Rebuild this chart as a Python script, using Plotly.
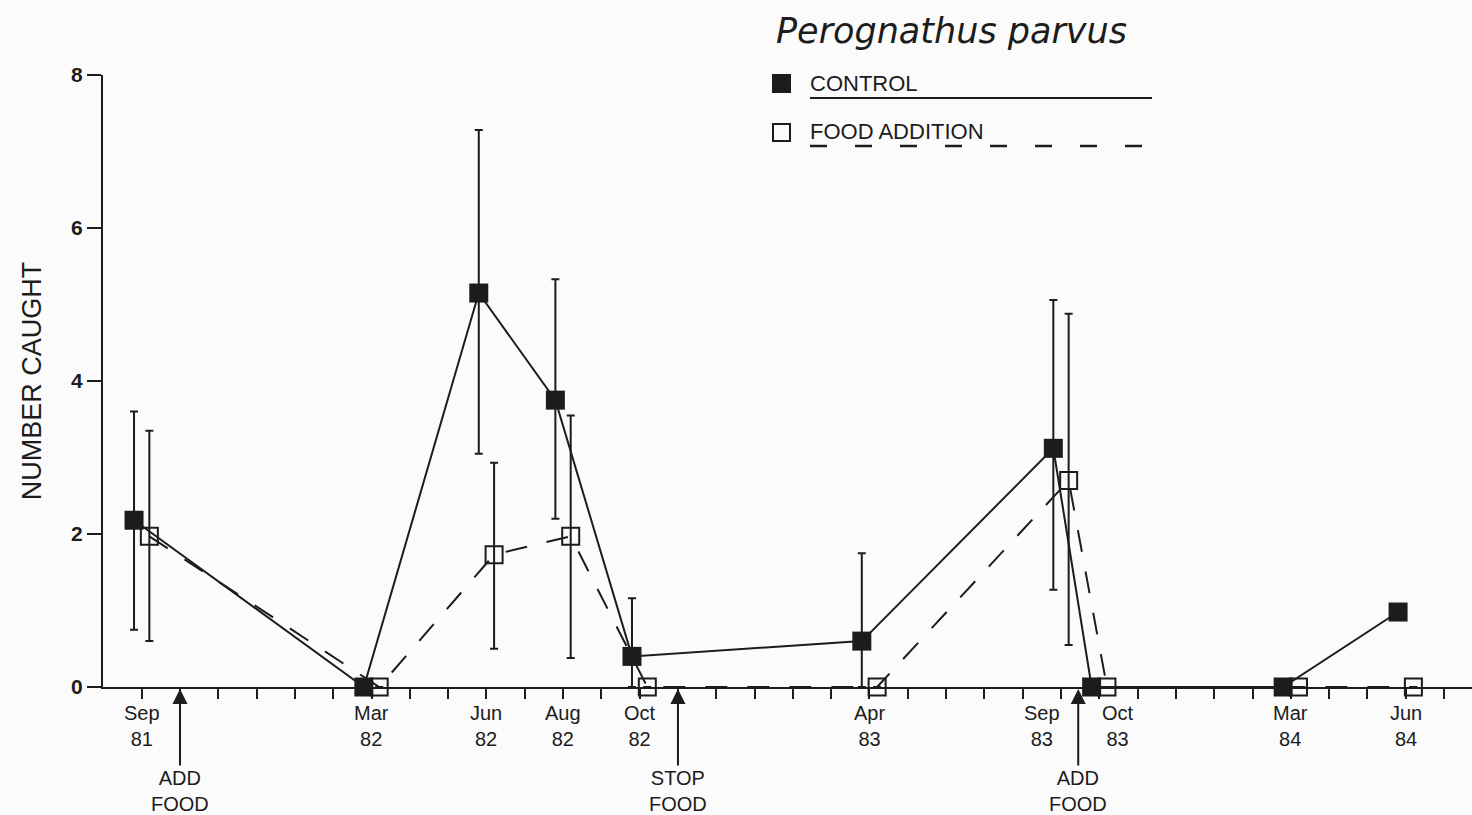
import plotly.graph_objects as go

# ---- data (months since Sep 1981) ----
months = [0, 6, 9, 11, 13, 19, 24, 25, 30, 33]
control = [2.18, 0, 5.15, 3.75, 0.40, 0.60, 3.12, 0, 0, 0.98]
control_hi = [3.60, None, 7.28, 5.33, 1.16, 1.75, 5.06, None, None, None]
control_lo = [0.75, None, 3.05, 2.20, 0.0, 0.0, 1.27, None, None, None]
food = [1.97, 0, 1.73, 1.97, 0, 0, 2.70, 0, 0, 0]
food_hi = [3.35, None, 2.93, 3.55, None, None, 4.88, None, None, None]
food_lo = [0.60, None, 0.50, 0.38, None, None, 0.55, None, None, None]

label_months = [0, 6, 9, 11, 13, 19, 23.5, 25.5, 30, 33]
label_text = ["Sep<br>81", "Mar<br>82", "Jun<br>82", "Aug<br>82", "Oct<br>82",
              "Apr<br>83", "Sep<br>83", "Oct<br>83", "Mar<br>84", "Jun<br>84"]

event_months = [1.0, 14.0, 24.45]
event_text = ["ADD<br>FOOD", "STOP<br>FOOD", "ADD<br>FOOD"]

title_text = "Perognathus parvus"
legend_labels = ["CONTROL", "FOOD ADDITION"]

INK = "#1c1c1c"
DODGE = 0.2
W, H = 1472, 815
ML, MR, MT, MB = 103, 0, 75, 128


def err_plus(v, hi):
    return [None if h is None else h - a for a, h in zip(v, hi)]


def err_minus(v, lo):
    return [None if l is None else a - l for a, l in zip(v, lo)]


def px_x(p):
    return (p - ML) / (W - ML - MR)


def px_y(p):
    return (H - MB - p) / (H - MB - MT)


fig = go.Figure()

fig.add_trace(go.Scatter(
    x=[m + DODGE for m in months], y=food, mode="lines+markers",
    line=dict(color=INK, width=2, dash="22px,20px"),
    marker=dict(symbol="square-open", size=17, color=INK, line=dict(width=2, color=INK)),
    error_y=dict(type="data", symmetric=False, array=err_plus(food, food_hi),
                 arrayminus=err_minus(food, food_lo), color=INK, thickness=2, width=4),
    cliponaxis=False, showlegend=False,
))

fig.add_trace(go.Scatter(
    x=[m - DODGE for m in months], y=control, mode="lines+markers",
    line=dict(color=INK, width=2),
    marker=dict(symbol="square", size=19, color=INK, line=dict(width=0)),
    error_y=dict(type="data", symmetric=False, array=err_plus(control, control_hi),
                 arrayminus=err_minus(control, control_lo), color=INK, thickness=2, width=4),
    cliponaxis=False, showlegend=False,
))

annotations = []
for m, t in zip(label_months, label_text):
    annotations.append(dict(x=m, y=px_y(726), xref="x", yref="paper", text=t,
                            showarrow=False, xanchor="center", yanchor="middle",
                            font=dict(family="Liberation Sans", size=20, color=INK)))

for m, t in zip(event_months, event_text):
    annotations.append(dict(x=m, y=0, xref="x", yref="y", text=t, showarrow=True,
                            ax=0, ay=104, arrowhead=2, arrowsize=1.5, arrowwidth=2,
                            arrowcolor=INK, standoff=2,
                            font=dict(family="Liberation Sans", size=20, color=INK)))

# title / legend
annotations.append(dict(x=px_x(774), y=px_y(31), xref="paper", yref="paper",
                        text="<i>" + title_text + "</i>", showarrow=False,
                        xanchor="left", yanchor="middle",
                        font=dict(family="DejaVu Sans", size=35, color=INK)))
annotations.append(dict(x=px_x(808), y=px_y(84), xref="paper", yref="paper",
                        text=legend_labels[0], showarrow=False, xanchor="left", yanchor="middle",
                        font=dict(family="Liberation Sans", size=22, color=INK)))
annotations.append(dict(x=px_x(808), y=px_y(131), xref="paper", yref="paper",
                        text=legend_labels[1], showarrow=False, xanchor="left", yanchor="middle",
                        font=dict(family="Liberation Sans", size=22, color=INK)))

shapes = [
    dict(type="rect", xref="paper", yref="paper", x0=px_x(772), x1=px_x(791),
         y0=px_y(93), y1=px_y(74), fillcolor=INK, line=dict(width=0)),
    dict(type="rect", xref="paper", yref="paper", x0=px_x(773), x1=px_x(790),
         y0=px_y(141), y1=px_y(124), fillcolor="rgba(0,0,0,0)", line=dict(width=2, color=INK)),
    dict(type="line", xref="paper", yref="paper", x0=px_x(810), x1=px_x(1152),
         y0=px_y(98), y1=px_y(98), line=dict(width=2, color=INK)),
    dict(type="line", xref="paper", yref="paper", x0=px_x(810), x1=px_x(1152),
         y0=px_y(146), y1=px_y(146), line=dict(width=2.5, color=INK, dash="17px,28px")),
]

fig.update_layout(
    width=W, height=H, autosize=False,
    margin=dict(l=ML, r=MR, t=MT, b=MB, pad=0),
    paper_bgcolor="#fbfbfb", plot_bgcolor="#fbfbfb",
    annotations=annotations, shapes=shapes,
    xaxis=dict(range=[-1.01, 34.73], tickvals=list(range(0, 35)), ticks="outside",
               ticklen=10, tickwidth=2, tickcolor=INK, showticklabels=False,
               showline=True, linewidth=2, linecolor=INK, showgrid=False, zeroline=False),
    yaxis=dict(range=[0, 8], tickvals=[0, 2, 4, 6, 8], ticks="outside", ticklen=14,
               tickwidth=2, tickcolor=INK, showline=True, linewidth=2, linecolor=INK,
               showgrid=False, zeroline=False,
               tickfont=dict(family="Liberation Sans", size=21, color=INK, weight="bold"),
               title=dict(text="NUMBER CAUGHT", standoff=22,
                          font=dict(family="Liberation Sans", size=27, color=INK))),
)

fig.write_html("out.html", config={"displayModeBar": False},
               post_script="document.body.style.margin='0';")
